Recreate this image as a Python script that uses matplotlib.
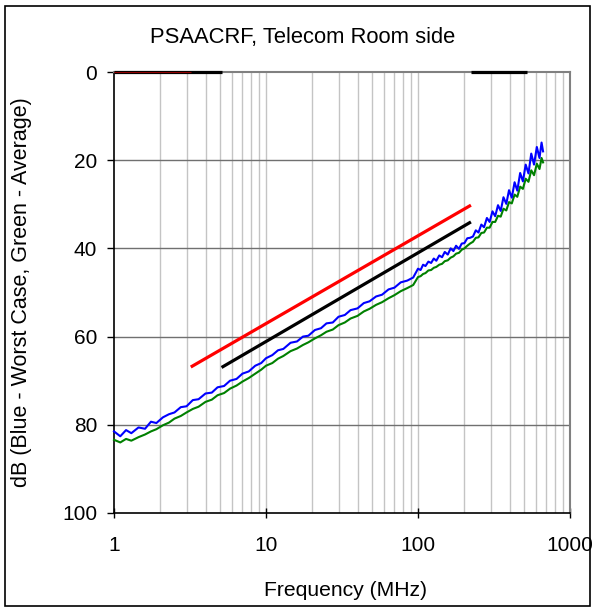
import matplotlib
matplotlib.use("Agg")
import matplotlib.pyplot as plt
from matplotlib.patches import Rectangle
from matplotlib.ticker import LogLocator, NullFormatter

plt.rcParams['font.family'] = ['Liberation Sans', 'DejaVu Sans']

# ---- data ----
freq = [1.0, 1.1, 1.2, 1.3, 1.45, 1.6, 1.75, 1.9, 2.1, 2.3, 2.5, 2.75, 3.0, 3.3, 3.6, 4.0, 4.4, 4.8, 5.3, 5.8, 6.4, 7.0, 7.7, 8.5, 9.3,
        10, 11, 12, 13, 14.5, 16, 17.5, 19, 21, 23, 25, 27.5, 30, 33, 36, 40, 44, 48, 53, 58, 64, 70, 77, 85, 93,
        100, 104, 108, 112, 117, 122, 127, 132, 138, 144, 150, 157, 164, 171, 178, 186, 194, 202, 211, 220,
        230, 240, 250, 261, 272, 284, 296, 309, 322, 336, 350, 365, 381, 397, 414, 432, 450, 470, 490, 511,
        533, 556, 580, 605, 630, 650, 665]

worst_case = [81.5, 82.6, 81.2, 81.9, 80.6, 80.9, 79.3, 79.6, 78.3, 77.6, 77.2, 76.0, 75.8, 74.4, 74.2, 72.9, 72.7, 71.5, 71.2, 70.0, 69.6, 68.4, 67.9, 66.6, 66.0,
              64.9, 64.2, 63.1, 62.8, 61.4, 61.1, 60.0, 59.8, 58.5, 58.1, 57.0, 56.8, 55.5, 55.1, 54.0, 53.6, 52.4, 52.0, 50.9, 50.5, 49.3, 48.9, 47.7, 47.3, 46.6,
              44.6, 44.9, 43.7, 44.0, 43.0, 43.3, 42.3, 42.8, 41.6, 42.0, 40.8, 41.4, 40.0, 40.6, 39.4, 40.1, 38.9, 38.8, 37.7, 37.6,
              37.3, 35.9, 36.4, 34.6, 35.2, 33.1, 34.0, 31.6, 32.7, 30.2, 31.5, 28.4, 29.9, 26.8, 28.5, 25.0, 26.9, 22.9, 24.8, 21.0,
              23.0, 18.5, 21.0, 17.0, 19.5, 16.0, 18.0]

average = [83.4, 84.0, 83.2, 83.6, 82.8, 82.2, 81.5, 81.0, 80.1, 79.5, 78.6, 78.0, 77.2, 76.4, 75.9, 74.8, 74.3, 73.3, 72.8, 71.8, 71.1, 70.2, 69.4, 68.4, 67.5,
           66.6, 66.0, 65.0, 64.4, 63.3, 62.7, 61.9, 61.3, 60.4, 59.7, 58.9, 58.4, 57.4, 56.8, 55.9, 55.3, 54.3, 53.7, 52.8, 52.2, 51.3, 50.6, 49.7, 49.0, 48.3,
           46.5, 46.3, 45.8, 45.6, 45.0, 44.9, 44.4, 44.2, 43.7, 43.5, 42.9, 42.7, 42.1, 41.8, 41.2, 41.0, 40.3, 40.0, 39.4, 38.9,
           38.5, 37.6, 37.5, 36.5, 36.4, 35.3, 35.3, 34.0, 34.0, 32.6, 32.8, 31.0, 31.4, 29.5, 29.8, 27.8, 28.3, 26.0, 26.5, 24.2,
           24.9, 22.3, 23.4, 20.8, 22.0, 19.5, 20.5]

red_limit_f = [3.2, 223]
red_limit_db = [66.9, 30.2]
black_limit_f = [5.1, 223]
black_limit_db = [67.0, 34.0]

# zero-valued parts of the limit series (drawn along the top edge)
red_zero_left_f = [1.0, 3.2]
black_zero_left_f = [1.0, 5.1]
zero_right_f = [223, 522]
zero_db = [0, 0]

title = "PSAACRF, Telecom Room side"
xlabel = "Frequency (MHz)"
ylabel = "dB (Blue - Worst Case, Green - Average)"
xticks = [1, 10, 100, 1000]
xticklabels = ["1", "10", "100", "1000"]
yticks = [0, 20, 40, 60, 80, 100]

# ---- figure ----
fig = plt.figure(figsize=(5.95, 6.12), dpi=100)
fig.patch.set_facecolor('white')
fig.patches.append(Rectangle((5 / 595, 6 / 612), 585 / 595, 600 / 612, transform=fig.transFigure,
                             fill=False, edgecolor='black', linewidth=1.2, zorder=0))

ax = fig.add_axes([114 / 595, 1 - 513 / 612, (570 - 114) / 595, (513 - 72) / 612])
ax.set_xscale('log')
ax.set_xlim(1, 1000)
ax.set_ylim(100, 0)

# grid
ax.xaxis.set_minor_locator(LogLocator(base=10, subs=range(2, 10), numticks=20))
ax.xaxis.set_minor_formatter(NullFormatter())
for xv in [2, 3, 4, 5, 6, 7, 8, 9, 10, 20, 30, 40, 50, 60, 70, 80, 90, 100, 200, 300, 400, 500, 600, 700, 800, 900]:
    ax.axvline(xv, color='#c4c4c4', linewidth=1.0, zorder=1)
for yv in [20, 40, 60, 80]:
    ax.axhline(yv, color='#707070', linewidth=1.0, zorder=1)

# data
ax.plot(freq, average, color='#008000', linewidth=1.5, zorder=3, clip_on=False)
ax.plot(freq, worst_case, color='#0000ff', linewidth=1.5, zorder=4, clip_on=False)
ax.plot(red_limit_f, red_limit_db, color='#ff0000', linewidth=2.3, zorder=5, solid_capstyle='butt')
ax.plot(black_limit_f, black_limit_db, color='black', linewidth=2.3, zorder=5, solid_capstyle='butt')
ax.plot(black_zero_left_f, zero_db, color='black', linewidth=2.3, zorder=5, clip_on=False, solid_capstyle='butt')
ax.plot(red_zero_left_f, zero_db, color='#900000', linewidth=0.8, zorder=6, clip_on=False, solid_capstyle='butt')
ax.plot(zero_right_f, zero_db, color='black', linewidth=2.3, zorder=5, clip_on=False, solid_capstyle='butt')

# spines
for s in ['top', 'right']:
    ax.spines[s].set_color('#808080')
    ax.spines[s].set_linewidth(1.5)
for s in ['left', 'bottom']:
    ax.spines[s].set_color('black')
    ax.spines[s].set_linewidth(1.2)

ax.set_xticks(xticks)
ax.set_xticklabels(xticklabels)
ax.set_yticks(yticks)
ax.set_yticklabels([str(v) for v in yticks])
ax.tick_params(axis='x', which='major', direction='inout', length=7, width=1, pad=13, labelsize=15)
ax.tick_params(axis='x', which='minor', length=0)
ax.tick_params(axis='y', which='major', direction='out', length=5, width=1, pad=7, labelsize=15)

fig.text(303 / 595, 1 - 37 / 612, title, ha='center', va='center', fontsize=15.8)
fig.text(346 / 595, 1 - 590 / 612, xlabel, ha='center', va='center', fontsize=15.2)
fig.text(22 / 595, 1 - 292 / 612, ylabel, ha='center', va='center', rotation=90, fontsize=15.5)

fig.savefig('out.png', dpi=100)
